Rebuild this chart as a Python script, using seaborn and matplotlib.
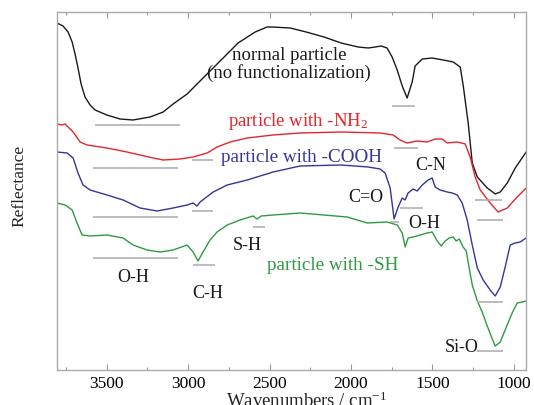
import matplotlib
matplotlib.use("Agg")
import matplotlib.pyplot as plt
from matplotlib.ticker import MultipleLocator
import pandas as pd
import seaborn as sns

# ---------- data (wavenumber, reflectance a.u.) ----------
wn_normal = [3805, 3768, 3737, 3712, 3694, 3676, 3657, 3633, 3602, 3571, 3499, 3418, 3338,
             3233, 3153, 3092, 3006, 2902, 2797, 2693, 2588, 2515, 2484, 2373, 2275, 2165,
             2060, 1956, 1894, 1851, 1815, 1778, 1747, 1716, 1685, 1655, 1624, 1606, 1562,
             1501, 1433, 1372, 1329, 1311, 1280, 1255, 1224, 1163, 1114, 1083, 1040, 991, 924]
r_normal = [347, 344, 338, 328, 316, 302, 286, 273, 265, 260, 255, 251, 250,
            253, 258, 266, 276, 293, 310, 327, 338, 343, 343, 342, 338, 333,
            327, 323, 322, 323, 324, 322, 313, 300, 284, 272, 288, 304, 311,
            312, 310, 308, 303, 285, 247, 207, 193, 182, 176, 178, 187, 202, 218]

wn_nh2 = [3805, 3774, 3755, 3743, 3706, 3663, 3620, 3498, 3375, 3295, 3215, 3153, 3049,
          2969, 2883, 2822, 2742, 2637, 2478, 2312, 2060, 1821, 1741, 1698, 1655, 1593,
          1532, 1483, 1440, 1409, 1347, 1298, 1268, 1237, 1206, 1145, 1096, 1040, 979, 924]
r_nh2 = [246, 245, 246, 244, 238, 228, 225, 222, 218, 215, 212, 210, 211,
         213, 217, 223, 228, 232, 235, 237, 238, 237, 235, 230, 227, 229,
         228, 231, 231, 227, 228, 226, 213, 193, 180, 167, 158, 162, 173, 182]

wn_cooh = [3805, 3743, 3706, 3676, 3645, 3602, 3498, 3399, 3295, 3190, 3092, 3006, 2969,
           2945, 2926, 2846, 2760, 2637, 2478, 2312, 2060, 1894, 1821, 1790, 1759, 1735,
           1710, 1685, 1667, 1649, 1618, 1593, 1562, 1526, 1501, 1483, 1452, 1409, 1378,
           1347, 1317, 1286, 1255, 1224, 1188, 1145, 1114, 1083, 1053, 1022, 991, 961, 924]
r_cooh = [218, 217, 212, 197, 185, 180, 175, 170, 162, 159, 162, 165, 167,
          164, 168, 178, 185, 190, 198, 204, 205, 203, 201, 197, 182, 151,
          163, 172, 170, 177, 181, 179, 185, 190, 192, 183, 180, 178, 177,
          175, 167, 150, 125, 102, 90, 80, 74, 83, 103, 125, 127, 128, 132]

wn_sh = [3805, 3755, 3712, 3682, 3651, 3602, 3498, 3399, 3338, 3252, 3172, 3092, 3006,
         2969, 2939, 2908, 2865, 2822, 2760, 2681, 2601, 2576, 2551, 2478, 2312, 2023,
         1900, 1778, 1716, 1685, 1667, 1649, 1618, 1575, 1532, 1501, 1470, 1446, 1421,
         1397, 1372, 1354, 1335, 1311, 1292, 1274, 1255, 1224, 1194, 1163, 1132, 1114,
         1083, 1053, 1010, 979, 948, 924]
r_sh = [167, 165, 160, 147, 135, 134, 135, 132, 125, 120, 118, 120, 125,
        118, 109, 118, 130, 138, 145, 150, 154, 151, 154, 155, 157, 153,
        147, 148, 145, 137, 123, 132, 133, 135, 137, 138, 129, 124, 129,
        132, 133, 129, 131, 123, 119, 102, 85, 69, 58, 44, 31, 24,
        28, 40, 57, 67, 68, 69]

# band markers (grey bars): start, end, level
band_lo = [3571, 1747, 1237, 3583, 2975, 1735, 1224, 3583, 2975, 1698, 1759, 1224,
           3583, 2969, 2601, 1224]
band_hi = [3049, 1606, 1071, 3061, 2846, 1587, 1065, 3061, 2846, 1556, 1705, 1065,
           3061, 2834, 2527, 1065]
band_y = [245, 264, 170, 202, 210, 222, 150, 153, 159, 162, 148, 68,
          112, 105, 143, 19]

# labels
lab_text = ["normal particle", "(no functionalization)", "particle with -NH$_2$",
            "particle with -COOH", "particle with -SH",
            "C-N", "C=O", "O-H", "S-H", "O-H", "C-H", "Si-O"]
lab_wn = [2379, 2379, 2324, 2305, 2115, 1513, 1906, 1550, 2638, 3335, 2877, 1320]
lab_r = [314, 297, 249, 212, 105, 205, 172, 147, 125, 93, 77, 23]
lab_col = ["black", "black", "red", "blue", "green",
           "black", "black", "black", "black", "black", "black", "black"]
lab_size = [13.5, 13.5, 13.5, 13.8, 13.8, 13, 13, 13, 13, 13, 13, 13]

palette = {"black": "#1a1a1a", "red": "#e4262b", "blue": "#35359a", "green": "#2f9a42"}

curves = [(wn_normal, r_normal, "black"), (wn_nh2, r_nh2, "red"),
          (wn_cooh, r_cooh, "blue"), (wn_sh, r_sh, "green")]

# ---------- plot ----------
sns.set_theme(style="white")
plt.rcParams['font.family'] = ['Liberation Serif', 'DejaVu Serif']
plt.rcParams['mathtext.fontset'] = 'custom'
plt.rcParams['mathtext.rm'] = 'Liberation Serif'
plt.rcParams['mathtext.it'] = 'Liberation Serif:italic'

fig = plt.figure(figsize=(5.34, 4.05), dpi=100)
ax = fig.add_axes([57 / 534, 35 / 405, 469 / 534, 358 / 405])

for wn, r, c in curves:
    df = pd.DataFrame({"wn": wn, "r": r})
    sns.lineplot(data=df, x="wn", y="r", color=palette[c], lw=1.0,
                 estimator=None, ax=ax)

ax.hlines(band_y, band_lo, band_hi, color="#aaaaaa", lw=1.1)

for s, x, y, c, fs in zip(lab_text, lab_wn, lab_r, lab_col, lab_size):
    ax.text(x, y, s, ha="center", va="center", color=palette[c], fontsize=fs)

ax.set_xlim(3805, 925)
ax.set_ylim(0, 358)
ax.set_xticks([3500, 3000, 2500, 2000, 1500, 1000])
ax.xaxis.set_minor_locator(MultipleLocator(250))
ax.set_yticks([])
ax.tick_params(axis="x", which="both", direction="in", top=True, bottom=True,
               color="#999999", labelcolor="black", labelsize=12.5, pad=4)
ax.tick_params(axis="x", which="major", length=4, width=0.8)
ax.tick_params(axis="x", which="minor", length=2.5, width=0.8)
ax.set_xlabel("")
ax.set_ylabel("")
for sp in ax.spines.values():
    sp.set_color("#aaaaaa")
    sp.set_linewidth(1.0)

fig.text(19 / 534, 1 - 186 / 405, "Reflectance", rotation=90, ha="center",
         va="center", fontsize=12.5)
fig.text(307 / 534, 1 - 392 / 405, "Wavenumbers / cm$^{-1}$", ha="center",
         va="top", fontsize=13.5)

fig.savefig("out.png", dpi=100)
